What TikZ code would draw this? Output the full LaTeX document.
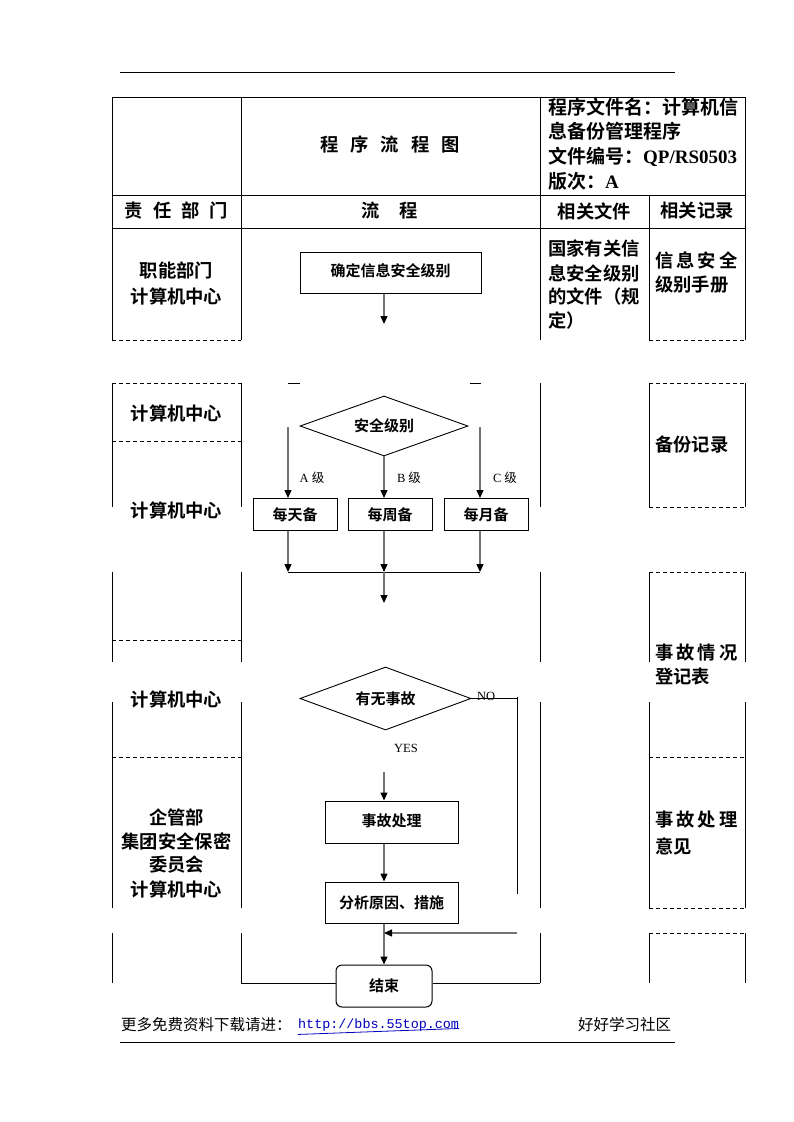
\documentclass[tikz,border=0pt]{standalone}
\usepackage{fontspec}
\setmainfont{Liberation Serif}
\newfontfamily\cjk{Noto Sans CJK SC}[BoldFont={Noto Sans CJK SC Bold}]
\newfontfamily\urlfnt{Liberation Mono}
\usetikzlibrary{shapes.geometric,arrows.meta}
\newcommand\latb[1]{{\rmfamily\bfseries #1}}
\begin{document}
\begin{tikzpicture}[x=1pt,y=-1pt,
  tbl/.style={line width=1pt},
  dsh/.style={line width=0.9pt, dash pattern=on 4pt off 3pt},
  hd/.style={inner sep=0, font=\cjk\bfseries\fontsize{18.3}{20}\selectfont},
  hdl/.style={hd, anchor=west},
  hdr/.style={inner sep=0, anchor=west, font=\cjk\bfseries\fontsize{19}{20}\selectfont},
  fbox/.style={draw, line width=1pt, inner sep=0, font=\cjk\bfseries\fontsize{15}{16}\selectfont},
  dia/.style={draw, diamond, aspect=2.8, inner sep=0, line width=0.9pt, font=\cjk\bfseries\fontsize{15}{16}\selectfont},
  flow/.style={draw=black!55, line width=1.3pt},
  arr/.style={flow, -{Triangle[length=8pt,width=7pt,color=black]}},
  blk/.style={line width=1pt},
  lbl/.style={inner sep=0, font=\fontsize{12.5}{13}\selectfont},
  foot/.style={inner sep=0, anchor=west, font=\cjk\fontsize{15.5}{16}\selectfont}]
\useasboundingbox (0,0) rectangle (793,1122);

% top and bottom rules
\draw[tbl] (120,72) -- (675,72);
\draw[tbl] (120,1042) -- (675,1042);

% ---------- header table ----------
\draw[tbl] (112,97) -- (745,97);
\draw[tbl] (112,195) -- (745,195);
\draw[tbl] (112,228) -- (745,228);
\draw[tbl] (112,97) -- (112,340);
\draw[tbl] (241,97) -- (241,340);
\draw[tbl] (540,97) -- (540,340);
\draw[tbl] (649,195) -- (649,340);
\draw[tbl] (745,97) -- (745,340);
\draw[dsh] (112,340) -- (241,340);
\draw[dsh] (649,340) -- (745,340);

% section 2
\draw[dsh] (112,383) -- (241,383);
\draw[dsh] (649,383) -- (745,383);
\draw[tbl] (288,383) -- (300,383);
\draw[tbl] (470,383) -- (481,383);
\foreach \x in {112,241,540,649,745} \draw[tbl] (\x,383) -- (\x,507);
\draw[dsh] (112,441) -- (241,441);
\draw[dsh] (649,507) -- (745,507);

% section 3
\foreach \x in {112,241,540,649,745} {\draw[tbl] (\x,572) -- (\x,662); \draw[tbl] (\x,702) -- (\x,908);}
\draw[dsh] (649,572) -- (745,572);
\draw[dsh] (112,640) -- (241,640);
\draw[dsh] (112,757) -- (241,757);
\draw[dsh] (649,757) -- (745,757);
\draw[dsh] (649,908) -- (745,908);

% section 4
\foreach \x in {112,241,540,649,745} \draw[tbl] (\x,933) -- (\x,983);
\draw[dsh] (649,933) -- (745,933);

% ---------- header texts ----------
\node[hd] (title) at (390,145) {程\hspace{12pt}序\hspace{12pt}流\hspace{12pt}程\hspace{12pt}图};
\node[hdr] (h1) at (548,107) {程序文件名：计算机信};
\node[hdr] (h2) at (548,131) {息备份管理程序};
\node[hdr] (h3) at (548,157) {文件编号：\latb{QP/RS0503}};
\node[hdr] (h4) at (548,181) {版次：\latb{A}};
\node[hd] (c1) at (176.5,211) {责\hspace{10pt}任\hspace{10pt}部\hspace{10pt}门};
\node[hd] (c2) at (390,211) {流\hspace{20pt}程};
\node[hd] (c3) at (594.5,211) {相关文件};
\node[hd] (c4) at (697,211) {相关记录};

% left column
\node[hd] (l1) at (176.5,270) {职能部门};
\node[hd] (l2) at (176.5,296) {计算机中心};
\node[hd] (l3) at (176.5,413) {计算机中心};
\node[hd] (l4) at (176.5,510) {计算机中心};
\node[hd] (l5) at (176.5,699) {计算机中心};
\node[hd] (l6) at (176.5,817) {企管部};
\node[hd] (l7) at (176.5,841) {集团安全保密};
\node[hd] (l8) at (176.5,865) {委员会};
\node[hd] (l9) at (176.5,889) {计算机中心};

% documents column
\node[hdl] (f1) at (548,248) {国家有关信};
\node[hdl] (f2) at (548,273) {息安全级别};
\node[hdl] (f3) at (548,297) {的文件（规};
\node[hdl] (f4) at (548,321) {定）};

% records column
\node[hdl] (r1) at (655,260) {信\hspace{3pt}息\hspace{3pt}安\hspace{3pt}全};
\node[hdl] (r2) at (655,285) {级别手册};
\node[hdl] (r3) at (655,445) {备份记录};
\node[hdl] (r4) at (655,653) {事\hspace{3pt}故\hspace{3pt}情\hspace{3pt}况};
\node[hdl] (r5) at (655,677) {登记表};
\node[hdl] (r6) at (655,820) {事\hspace{3pt}故\hspace{3pt}处\hspace{3pt}理};
\node[hdl] (r7) at (655,846) {意见};

% ---------- flow ----------
\node[fbox, minimum width=181pt, minimum height=41pt] (b1) at (390.5,272.5) {\raisebox{4pt}{确定信息安全级别}};
\coordinate (a1) at (384,324);
\draw[arr] (b1.south -| a1) -- (a1);

\node[dia, minimum width=168pt, minimum height=60pt] (lv) at (384,426) {安全级别};
\coordinate (aL) at (288,427);
\coordinate (aR) at (480,427);
\node[fbox, minimum width=84pt, minimum height=32pt] (d1) at (295,514.5) {每天备};
\node[fbox, minimum width=84pt, minimum height=32pt] (d2) at (390,514.5) {每周备};
\node[fbox, minimum width=84pt, minimum height=32pt] (d3) at (486,514.5) {每月备};
\draw[arr] (aL) -- (d1.north -| aL);
\draw[arr] (lv.south) -- (d2.north -| lv.south);
\draw[arr] (aR) -- (d3.north -| aR);
\node[lbl] (la) at (312,478) {A {\cjk 级}};
\node[lbl] (lb) at (409,478) {B {\cjk 级}};
\node[lbl] (lc) at (505,478) {C {\cjk 级}};

\coordinate (mL) at (288,572);
\coordinate (mM) at (384,572);
\coordinate (mR) at (480,572);
\draw[arr] (d1.south -| mL) -- (mL);
\draw[arr] (d2.south -| mM) -- (mM);
\draw[arr] (d3.south -| mR) -- (mR);
\draw[blk] (mL) -- (mR);
\coordinate (m2) at (384,603);
\draw[arr] (mM) -- (m2);

\node[dia, minimum width=171pt, minimum height=63pt] (q) at (385.5,698.5) {有无事故};
\coordinate (nv) at (517,697);
\coordinate (nb) at (517,894);
\draw[blk] (q.east) -- (q.east -| nv);
\draw[blk] (nv) -- (nb);
\node[lbl, anchor=west] (no) at (477,696) {NO};
\node[lbl] (yes) at (406,748) {YES};

\coordinate (ys) at (384,772);
\node[fbox, minimum width=133pt, minimum height=42pt] (acc) at (391.5,822) {\raisebox{4pt}{事故处理}};
\node[fbox, minimum width=133pt, minimum height=41pt] (an) at (391.5,902.5) {分析原因、措施};
\node[draw, line width=1pt, rounded corners=6pt, inner sep=0, minimum width=96pt, minimum height=42pt,
      font=\cjk\bfseries\fontsize{15}{16}\selectfont] (end) at (384,986) {结束};
\draw[arr] (ys) -- (acc.north -| ys);
\draw[arr] (acc.south -| ys) -- (an.north -| ys);
\draw[arr] (an.south -| ys) -- (end.north);
\coordinate (rs) at (517,933);
\draw[arr] (rs) -- (rs -| ys);
\coordinate (hl) at (241,983);
\coordinate (hr) at (540,983);
\draw[tbl] (hl) -- (hl -| end.west);
\draw[tbl] (end.east |- hr) -- (hr);

% ---------- footer ----------
\node[foot] (ft1) at (121,1025) {更多免费资料下载请进：};
\node[inner sep=0, anchor=west, text=blue!75!black, font=\urlfnt\fontsize{13.4}{14}\selectfont] (url) at (298,1025) {http://bbs.55top.com};
\draw[blue!75!black, line width=0.8pt] (url.south west) ++(0,3) -- ([yshift=3pt]url.south east);
\node[foot] (ft2) at (578,1025) {好好学习社区};
\end{tikzpicture}
\end{document}
